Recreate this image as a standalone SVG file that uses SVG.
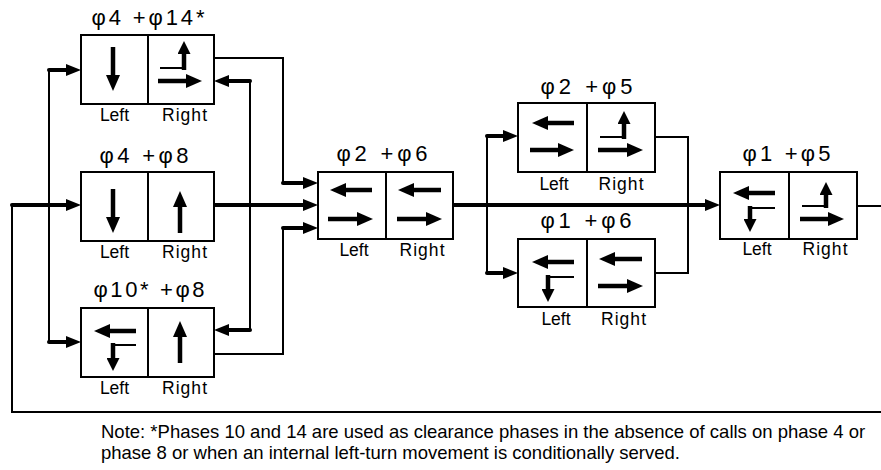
<svg xmlns="http://www.w3.org/2000/svg" width="881" height="470" viewBox="0 0 881 470">
<defs>
<style>
.box{fill:#fff;stroke:#000;stroke-width:2}
.dv{stroke:#000;stroke-width:2}
text{font-family:"Liberation Sans",Arial,sans-serif;fill:#000}
.ti{font-size:22px;text-anchor:middle}
.lb{font-size:17.5px;text-anchor:middle}
.nt{font-size:18.5px}
.mv{stroke:#000;stroke-width:4.5;fill:none;marker-end:url(#mh)}
.mt{stroke:#000;stroke-width:4.5;fill:none;marker-end:url(#sh)}
.tn{stroke:#000;stroke-width:2;fill:none}
.ck{stroke:#000;stroke-width:4;fill:none;stroke-linecap:round;marker-end:url(#ah)}
.cn{stroke:#000;stroke-width:2;fill:none;stroke-linecap:square}
</style>
<marker id="ah" markerUnits="userSpaceOnUse" markerWidth="15" markerHeight="12" refX="3" refY="6" orient="auto"><path d="M0,0 L15,6 L0,12 z" fill="#000"/></marker>
<marker id="mh" markerUnits="userSpaceOnUse" markerWidth="16" markerHeight="14" refX="4" refY="7" orient="auto"><path d="M0,0 L16,7 L0,14 z" fill="#000"/></marker>
<marker id="sh" markerUnits="userSpaceOnUse" markerWidth="13" markerHeight="13" refX="3" refY="6.5" orient="auto"><path d="M0,0 L13,6.5 L0,13 z" fill="#000"/></marker>
</defs>
<rect width="881" height="470" fill="#fff"/>

<g id="connectors">
<path class="cn" d="M881,412 H12 V205"/>
<line class="ck" x1="12" y1="205" x2="69" y2="205"/>
<line class="cn" x1="49" y1="70" x2="49" y2="342"/>
<line class="ck" x1="49" y1="70" x2="69" y2="70"/>
<line class="ck" x1="49" y1="342" x2="69" y2="342"/>
<line class="cn" x1="250" y1="81" x2="250" y2="330"/>
<line class="ck" x1="250" y1="81" x2="226" y2="81"/>
<line class="ck" x1="250" y1="330" x2="226" y2="330"/>
<path class="cn" d="M214,58 H283 V183"/>
<path class="cn" d="M214,354 H283 V228"/>
<line class="ck" x1="214" y1="205" x2="306" y2="205"/>
<line class="ck" x1="283" y1="183" x2="306" y2="183"/>
<line class="ck" x1="283" y1="228" x2="306" y2="228"/>
<line class="ck" x1="453" y1="205" x2="708" y2="205"/>
<line class="cn" x1="487" y1="136" x2="487" y2="273"/>
<line class="ck" x1="487" y1="136" x2="506" y2="136"/>
<line class="ck" x1="487" y1="273" x2="506" y2="273"/>
<path class="cn" d="M655,137 H688 V273 H655"/>
<line class="cn" x1="857" y1="206" x2="881" y2="206"/>
</g>

<g id="node-p4-p14">
<rect class="box" x="81" y="35" width="133" height="69"/>
<line class="dv" x1="148" y1="35" x2="148" y2="104"/>
<text class="ti" x="148" y="25" textLength="113" lengthAdjust="spacing">φ4 +φ14*</text>
<text class="lb" x="114.5" y="121">Left</text>
<text class="lb" x="184.5" y="121" textLength="45" lengthAdjust="spacing">Right</text>
<line class="mv" x1="113" y1="47" x2="113" y2="79"/>
<line class="tn" x1="160" y1="68" x2="186" y2="68"/>
<line class="mt" x1="184" y1="70" x2="184" y2="51"/>
<line class="mv" x1="158" y1="81" x2="190" y2="81"/>
</g>

<g id="node-p4-p8">
<rect class="box" x="81" y="172" width="133" height="69"/>
<line class="dv" x1="148" y1="172" x2="148" y2="241"/>
<text class="ti" x="144" y="163" textLength="89" lengthAdjust="spacing">φ4 +φ8</text>
<text class="lb" x="114.5" y="258">Left</text>
<text class="lb" x="184.5" y="258" textLength="45" lengthAdjust="spacing">Right</text>
<line class="mv" x1="113" y1="189" x2="113" y2="221"/>
<line class="mv" x1="180" y1="233" x2="180" y2="203"/>
</g>

<g id="node-p10-p8">
<rect class="box" x="81" y="308" width="133" height="69"/>
<line class="dv" x1="148" y1="308" x2="148" y2="377"/>
<text class="ti" x="149" y="297" textLength="111" lengthAdjust="spacing">φ10* +φ8</text>
<text class="lb" x="114.5" y="394">Left</text>
<text class="lb" x="184.5" y="394" textLength="45" lengthAdjust="spacing">Right</text>
<line class="mv" x1="136" y1="331" x2="106" y2="331"/>
<line class="tn" x1="136" y1="345" x2="112" y2="345"/>
<line class="mt" x1="113" y1="343" x2="113" y2="361"/>
<line class="mv" x1="180" y1="363" x2="180" y2="333"/>
</g>

<g id="node-p2-p6">
<rect class="box" x="318" y="172" width="135" height="67"/>
<line class="dv" x1="386" y1="172" x2="386" y2="239"/>
<text class="ti" x="382" y="161" textLength="91" lengthAdjust="spacing">φ2 +φ6</text>
<text class="lb" x="354" y="256">Left</text>
<text class="lb" x="422" y="256" textLength="45" lengthAdjust="spacing">Right</text>
<line class="mv" x1="372" y1="190" x2="342" y2="190"/>
<line class="mv" x1="328" y1="219" x2="361" y2="219"/>
<line class="mv" x1="441" y1="190" x2="410" y2="190"/>
<line class="mv" x1="397" y1="219" x2="430" y2="219"/>
</g>

<g id="node-p2-p5">
<rect class="box" x="518" y="103" width="137" height="69"/>
<line class="dv" x1="587" y1="103" x2="587" y2="172"/>
<text class="ti" x="586.5" y="94" textLength="92" lengthAdjust="spacing">φ2 +φ5</text>
<text class="lb" x="554" y="190">Left</text>
<text class="lb" x="621" y="190" textLength="45" lengthAdjust="spacing">Right</text>
<line class="mv" x1="574" y1="123" x2="544" y2="123"/>
<line class="mv" x1="530" y1="150" x2="562" y2="150"/>
<line class="tn" x1="600" y1="137" x2="626" y2="137"/>
<line class="mt" x1="624" y1="139" x2="624" y2="121"/>
<line class="mv" x1="598" y1="150" x2="631" y2="150"/>
</g>

<g id="node-p1-p6">
<rect class="box" x="518" y="239" width="137" height="68"/>
<line class="dv" x1="587" y1="239" x2="587" y2="307"/>
<text class="ti" x="586" y="228" textLength="91" lengthAdjust="spacing">φ1 +φ6</text>
<text class="lb" x="556" y="325">Left</text>
<text class="lb" x="623.5" y="325" textLength="45" lengthAdjust="spacing">Right</text>
<line class="mv" x1="574" y1="262" x2="544" y2="262"/>
<line class="tn" x1="574" y1="277" x2="547" y2="277"/>
<line class="mt" x1="548" y1="275" x2="548" y2="292"/>
<line class="mv" x1="642" y1="259" x2="611" y2="259"/>
<line class="mv" x1="598" y1="286" x2="631" y2="286"/>
</g>

<g id="node-p1-p5">
<rect class="box" x="720" y="172" width="137" height="67"/>
<line class="dv" x1="789" y1="172" x2="789" y2="239"/>
<text class="ti" x="786.5" y="161" textLength="88" lengthAdjust="spacing">φ1 +φ5</text>
<text class="lb" x="757" y="255">Left</text>
<text class="lb" x="825" y="255" textLength="45" lengthAdjust="spacing">Right</text>
<line class="mv" x1="775" y1="193" x2="745" y2="193"/>
<line class="tn" x1="775" y1="208" x2="749" y2="208"/>
<line class="mt" x1="750" y1="206" x2="750" y2="222"/>
<line class="tn" x1="802" y1="206" x2="828" y2="206"/>
<line class="mt" x1="826" y1="208" x2="826" y2="192"/>
<line class="mv" x1="800" y1="219" x2="832" y2="219"/>
</g>

<g id="note">
<text class="nt" x="101" y="438">Note: *Phases 10 and 14 are used as clearance phases in the absence of calls on phase 4 or</text>
<text class="nt" x="101" y="459">phase 8 or when an internal left-turn movement is conditionally served.</text>
</g>
</svg>
